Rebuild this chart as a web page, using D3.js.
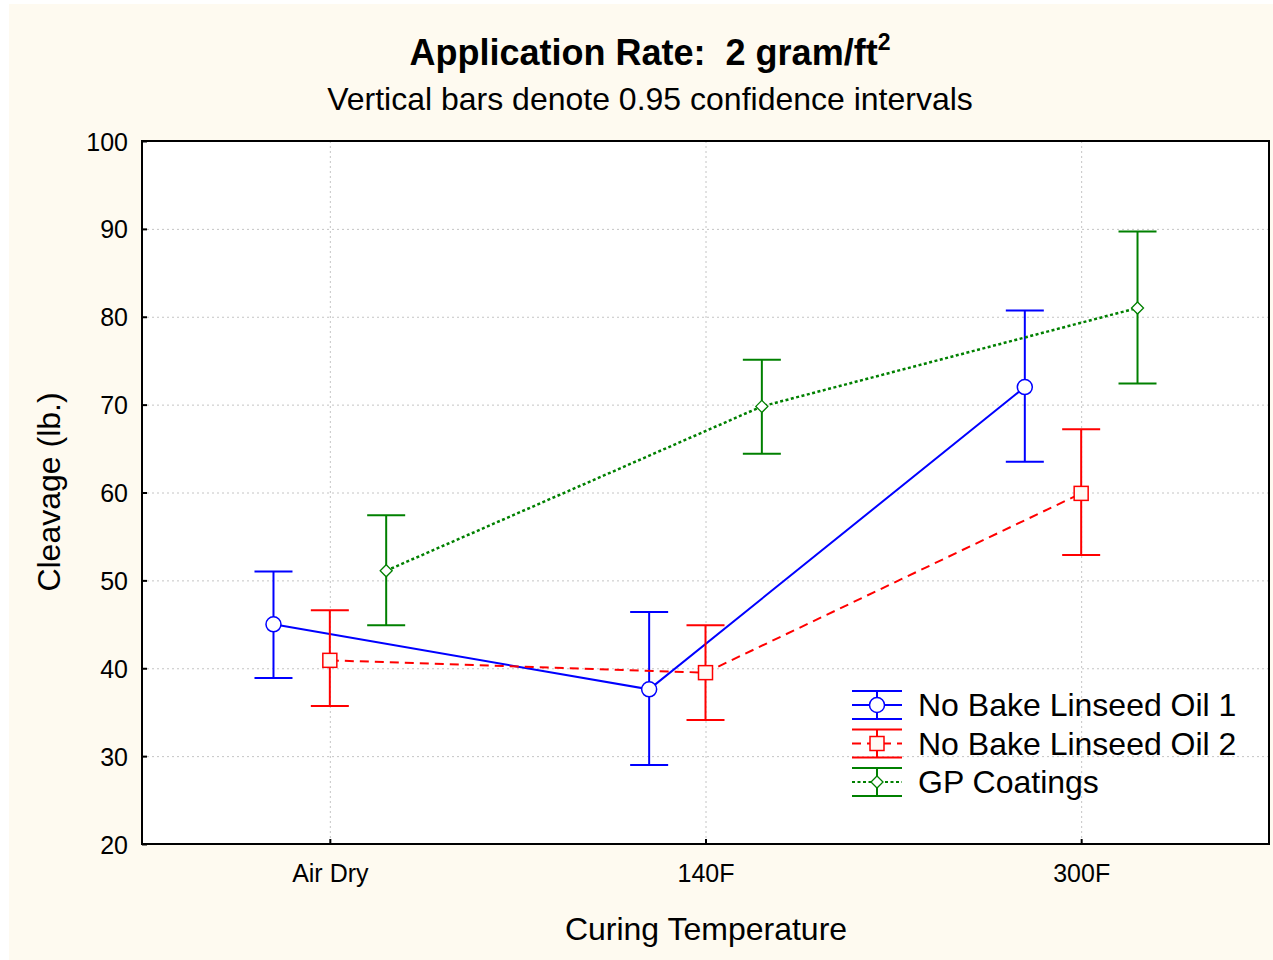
<!DOCTYPE html>
<html>
<head>
<meta charset="utf-8">
<script src="https://cdn.jsdelivr.net/npm/d3@7"></script>
<style>
  body { margin: 0; background: #fff; }
  svg { display: block; font-family: "Liberation Sans", Arial, sans-serif; }
</style>
</head>
<body>
<div id="chart"></div>
<script>
// data
const categories = ["Air Dry", "140F", "300F"];
const seriesNames = ["No Bake Linseed Oil 1", "No Bake Linseed Oil 2", "GP Coatings"];
const oil1Mean = [45.0, 37.6, 72.0];
const oil1Low = [38.9, 29.0, 63.5];
const oil1High = [51.0, 46.4, 80.7];
const oil2Mean = [40.9, 39.5, 59.9];
const oil2Low = [35.7, 34.1, 52.9];
const oil2High = [46.6, 44.9, 67.2];
const gpMean = [51.1, 69.8, 81.0];
const gpLow = [44.9, 64.4, 72.4];
const gpHigh = [57.4, 75.1, 89.7];
const yTicks = [20, 30, 40, 50, 60, 70, 80, 90, 100];

const width = 1273, height = 960;
const margin = { left: 142, top: 141, right: 1269, bottom: 844 };

const svg = d3.select("#chart").append("svg")
  .attr("width", width).attr("height", height);

svg.append("rect").attr("x", 9).attr("y", 4)
  .attr("width", width - 9).attr("height", height - 4)
  .attr("fill", "#fefaf0");

const x = d3.scalePoint().domain(categories)
  .range([margin.left, margin.right]).padding(0.5);
const y = d3.scaleLinear().domain([20, 100]).range([margin.bottom, margin.top]);
const step = x.step();

// plot area
svg.append("rect")
  .attr("x", margin.left).attr("y", margin.top)
  .attr("width", margin.right - margin.left)
  .attr("height", margin.bottom - margin.top)
  .attr("fill", "#fff");

// grid
const grid = svg.append("g").attr("stroke", "#c4c4c4").attr("stroke-width", 1)
  .attr("stroke-dasharray", "2,3");
grid.selectAll(".gy").data(yTicks.slice(1, -1)).join("line")
  .attr("x1", margin.left).attr("x2", margin.right)
  .attr("y1", d => y(d) + 0.5).attr("y2", d => y(d) + 0.5);
grid.selectAll(".gx").data(categories).join("line")
  .attr("y1", margin.top).attr("y2", margin.bottom)
  .attr("x1", d => x(d) + 0.5).attr("x2", d => x(d) + 0.5);

// axes
const yAxis = svg.append("g").attr("transform", `translate(${margin.left},0)`)
  .call(d3.axisLeft(y).tickValues(yTicks).tickSize(-5).tickPadding(14));
const xAxis = svg.append("g").attr("transform", `translate(0,${margin.bottom})`)
  .call(d3.axisBottom(x).tickSize(-5).tickPadding(20));
[yAxis, xAxis].forEach(a => {
  a.select(".domain").remove();
  a.selectAll(".tick line").attr("stroke", "#000").attr("stroke-width", 2);
  a.selectAll("text").attr("font-size", 25).attr("fill", "#000")
    .attr("font-family", "Liberation Sans, Arial, sans-serif");
});
yAxis.selectAll("text").attr("dy", "0.36em");

const series = [
  { name: seriesNames[0], mean: oil1Mean, low: oil1Low, high: oil1High, color: "#0000ff",
    offset: -0.15, dash: null, marker: "circle" },
  { name: seriesNames[1], mean: oil2Mean, low: oil2Low, high: oil2High, color: "#ff0000",
    offset: 0, dash: "9,6", marker: "square" },
  { name: seriesNames[2], mean: gpMean, low: gpLow, high: gpHigh, color: "#008000",
    offset: 0.15, dash: "3,2.5", marker: "diamond" }
];

const capHalf = 19;

function drawMarker(g, type, color) {
  if (type === "circle") {
    g.append("circle").attr("r", 7.5).attr("fill", "#fff")
      .attr("stroke", color).attr("stroke-width", 1.5);
  } else if (type === "square") {
    g.append("rect").attr("x", -7).attr("y", -7).attr("width", 14).attr("height", 14)
      .attr("fill", "#fffaf5").attr("stroke", color).attr("stroke-width", 1.5);
  } else {
    g.append("path").attr("d", "M0,-6L6,0L0,6L-6,0Z").attr("fill", "#fff")
      .attr("stroke", color).attr("stroke-width", 1.3);
  }
}

series.forEach(s => {
  const px = i => x(categories[i]) + s.offset * step;
  const g = svg.append("g");
  // error bars
  categories.forEach((c, i) => {
    const cx = px(i);
    g.append("line").attr("x1", cx).attr("x2", cx)
      .attr("y1", y(s.low[i])).attr("y2", y(s.high[i]))
      .attr("stroke", s.color).attr("stroke-width", 2);
    [s.low[i], s.high[i]].forEach(v => {
      g.append("line").attr("x1", cx - capHalf).attr("x2", cx + capHalf)
        .attr("y1", y(v)).attr("y2", y(v))
        .attr("stroke", s.color).attr("stroke-width", 2);
    });
  });
  // connecting line
  const line = d3.line().x((d, i) => px(i)).y(d => y(d));
  g.append("path").attr("d", line(s.mean)).attr("fill", "none")
    .attr("stroke", s.color).attr("stroke-width", s.marker === "diamond" ? 2.5 : 2)
    .attr("stroke-dasharray", s.dash);
  s.mean.forEach((v, i) => {
    drawMarker(g.append("g").attr("transform", `translate(${px(i)},${y(v)})`), s.marker, s.color);
  });
});

// frame
svg.append("rect")
  .attr("x", margin.left).attr("y", margin.top)
  .attr("width", margin.right - margin.left)
  .attr("height", margin.bottom - margin.top)
  .attr("fill", "none").attr("stroke", "#000").attr("stroke-width", 2);

// legend
const legend = svg.append("g").attr("transform", "translate(877,705)");
series.forEach((s, i) => {
  const g = legend.append("g").attr("transform", `translate(0,${i * 38.5})`);
  g.append("line").attr("x1", 0).attr("x2", 0).attr("y1", -14).attr("y2", 14)
    .attr("stroke", s.color).attr("stroke-width", 2);
  [-14, 14].forEach(yy => g.append("line").attr("x1", -25).attr("x2", 25)
    .attr("y1", yy).attr("y2", yy).attr("stroke", s.color).attr("stroke-width", 2));
  g.append("line").attr("x1", -25).attr("x2", 25).attr("y1", 0).attr("y2", 0)
    .attr("stroke", s.color).attr("stroke-width", 2).attr("stroke-dasharray", s.dash);
  drawMarker(g, s.marker, s.color);
  g.append("text").attr("x", 41).attr("y", 11).attr("font-size", 32).text(s.name);
});

// titles
const title = svg.append("text").attr("x", 650).attr("y", 65)
  .attr("text-anchor", "middle").attr("font-size", 36).attr("font-weight", "bold")
  .style("white-space", "pre");
title.append("tspan").text("Application Rate:  2 gram/ft");
title.append("tspan").attr("dy", -15).attr("font-size", 23).text("2");

svg.append("text").attr("x", 650).attr("y", 110).attr("text-anchor", "middle")
  .attr("font-size", 32).text("Vertical bars denote 0.95 confidence intervals");

svg.append("text").attr("x", 706).attr("y", 940).attr("text-anchor", "middle")
  .attr("font-size", 32).text("Curing Temperature");

svg.append("text").attr("transform", "translate(60,492) rotate(-90)")
  .attr("text-anchor", "middle").attr("font-size", 32).text("Cleavage (lb.)");
</script>
</body>
</html>
